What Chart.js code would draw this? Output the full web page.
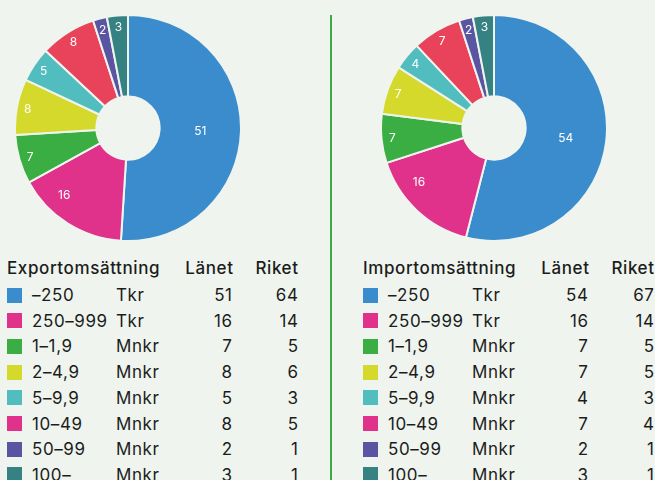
<!DOCTYPE html>
<html>
<head>
<meta charset="utf-8">
<script src="https://cdn.jsdelivr.net/npm/chart.js@4"></script>
<style>
  body { margin: 0; background: #eff5ee; font-family: Inter, "Noto Sans", sans-serif; color: #1c1c1c; }
  #wrap { position: relative; width: 655px; height: 480px; overflow: hidden; background: #eff5ee; }
  .pie { position: absolute; top: 14px; width: 228px; height: 228px; }
  .divider { position: absolute; left: 330px; top: 15px; width: 2px; height: 470px; background: #3aac44; }
  .cell { position: absolute; font-size: 17px; line-height: 20px; white-space: nowrap; letter-spacing: 0.6px; }
  .head { font-weight: 500; }
  .sw { position: absolute; width: 15px; height: 15px; }
</style>
</head>
<body>
<div id="wrap">
  <div class="pie" style="left:14px"><canvas id="exportChart"></canvas></div>
  <div class="pie" style="left:380px"><canvas id="importChart"></canvas></div>
  <div class="divider"></div>
  <div id="exportTable"></div>
  <div id="importTable"></div>
</div>
<script>
// Kategorier
const ranges = ['–250', '250–999', '1–1,9', '2–4,9', '5–9,9', '10–49', '50–99', '100–'];
const units = ['Tkr', 'Tkr', 'Mnkr', 'Mnkr', 'Mnkr', 'Mnkr', 'Mnkr', 'Mnkr'];

// Export
const exportLanet = [51, 16, 7, 8, 5, 8, 2, 3];
const exportRiket = [64, 14, 5, 6, 3, 5, 1, 1];

// Import
const importLanet = [54, 16, 7, 7, 4, 7, 2, 3];
const importRiket = [67, 14, 5, 5, 3, 4, 1, 1];

const sliceColors = ['#3a8ccd', '#e0318b', '#3aad43', '#d4d92c', '#52bdbf', '#e9435b', '#5a55a3', '#368283'];
// i originalet har 10–49 samma ruta som 250–999
const swatchColors = ['#3a8ccd', '#e0318b', '#3aad43', '#d4d92c', '#52bdbf', '#e0318b', '#5a55a3', '#368283'];

const bg = '#eff5ee';

// Etiketter inne i bitarna, små bitar längre ut
const sliceLabels = {
  id: 'sliceLabels',
  afterDatasetsDraw(chart) {
    const ctx = chart.ctx;
    const meta = chart.getDatasetMeta(0);
    const data = chart.data.datasets[0].data;
    const total = data.reduce((a, b) => a + b, 0);
    ctx.save();
    ctx.fillStyle = '#ffffff';
    ctx.font = '12px Inter, "Noto Sans", sans-serif';
    ctx.textAlign = 'center';
    ctx.textBaseline = 'middle';
    meta.data.forEach((arc, i) => {
      const p = arc.getProps(['x', 'y', 'startAngle', 'endAngle', 'innerRadius', 'outerRadius'], true);
      const share = data[i] / total;
      let r;
      let a = (p.startAngle + p.endAngle) / 2;
      if (share > 0.4) r = (p.innerRadius + p.outerRadius) / 2;
      else if (share > 0.1) { r = p.outerRadius - 21; a += 0.2; }
      else r = p.outerRadius - 11;
      ctx.fillText(data[i], p.x + Math.cos(a) * r, p.y + Math.sin(a) * r + 1);
    });
    ctx.restore();
  }
};

function makePie(id, values) {
  new Chart(document.getElementById(id), {
    type: 'doughnut',
    data: {
      labels: ranges,
      datasets: [{
        data: values,
        backgroundColor: sliceColors,
        borderColor: bg,
        borderWidth: 2
      }]
    },
    options: {
      responsive: true,
      maintainAspectRatio: false,
      animation: false,
      cutout: '28%',
      layout: { padding: 0 },
      plugins: { legend: { display: false }, tooltip: { enabled: false } }
    },
    plugins: [sliceLabels]
  });
}

function cell(parent, text, x, y, cls, rightAlign) {
  const d = document.createElement('div');
  d.className = 'cell ' + (cls || '');
  d.textContent = text;
  d.style.top = (y - 10) + 'px';
  if (rightAlign) {
    d.style.left = (x - 60) + 'px';
    d.style.width = '60px';
    d.style.textAlign = 'right';
    d.style.letterSpacing = '0.6px';
    d.style.marginRight = '-0.6px';
  } else {
    d.style.left = x + 'px';
  }
  parent.appendChild(d);
}

function makeTable(id, title, base, lanet, riket) {
  const el = document.getElementById(id);
  cell(el, title, base, 268, 'head');
  cell(el, 'Länet', base + 226.6, 268, 'head', true);
  cell(el, 'Riket', base + 291.6, 268, 'head', true);
  ranges.forEach((r, i) => {
    const y = 295 + i * 25.7;
    const sw = document.createElement('div');
    sw.className = 'sw';
    sw.style.left = base + 'px';
    sw.style.top = (y - 7.5) + 'px';
    sw.style.background = swatchColors[i];
    el.appendChild(sw);
    cell(el, r, base + 25, y);
    cell(el, units[i], base + 109, y);
    cell(el, lanet[i], base + 225.6, y, '', true);
    cell(el, riket[i], base + 291.6, y, '', true);
  });
}

makePie('exportChart', exportLanet);
makePie('importChart', importLanet);
makeTable('exportTable', 'Exportomsättning', 7, exportLanet, exportRiket);
makeTable('importTable', 'Importomsättning', 363, importLanet, importRiket);
</script>
</body>
</html>
